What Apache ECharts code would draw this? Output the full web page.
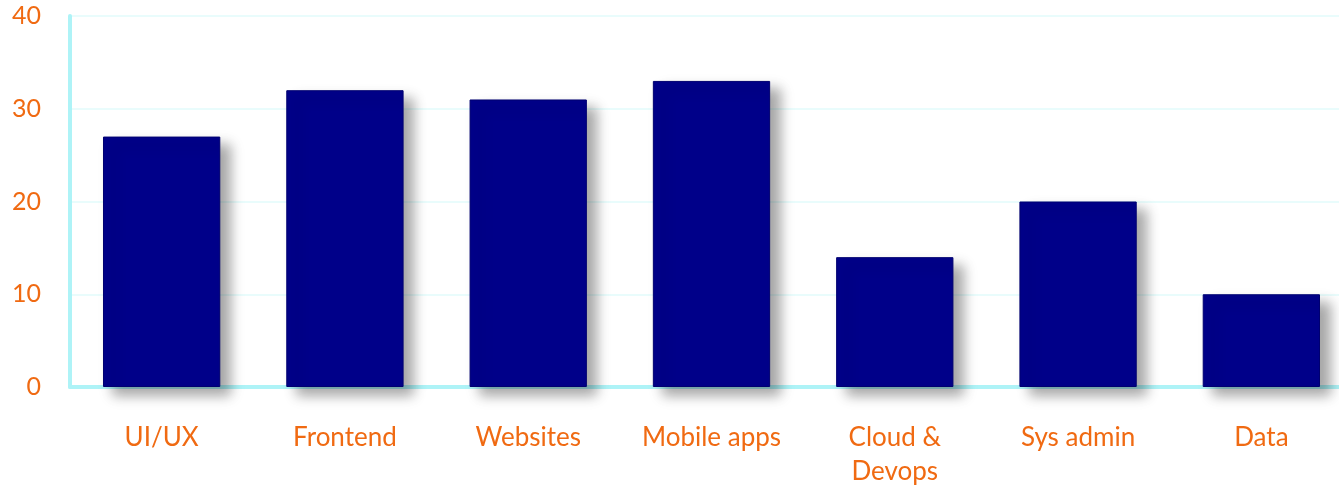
<!DOCTYPE html>
<html>
<head>
<meta charset="utf-8">
<script src="https://cdn.jsdelivr.net/npm/echarts@6/dist/echarts.min.js"></script>
<style>
  html, body { margin: 0; padding: 0; background: #ffffff; }
  #chart { width: 1339px; height: 489px; }
</style>
</head>
<body>
<div id="chart"></div>
<script>
// Project categories and how many projects fall into each
const categories = ['UI/UX', 'Frontend', 'Websites', 'Mobile apps', 'Cloud &\nDevops', 'Sys admin', 'Data'];
const projectCounts = [27, 32, 31, 33, 14, 20, 10];
const yTicks = { min: 0, max: 40, interval: 10 };

const labelColor = '#f06a12';
const axisCyan = '#aef3f7';
const gridCyan = '#e2fbfb';
const fontFamily = 'Lato, "Noto Sans", sans-serif';

const chart = echarts.init(document.getElementById('chart'), null, { renderer: 'canvas' });

chart.setOption({
  animation: false,
  backgroundColor: '#ffffff',
  grid: {
    left: 70,
    top: 16,
    width: 1283,
    height: 371,
    containLabel: false,
    outerBoundsMode: 'none'
  },
  xAxis: {
    type: 'category',
    data: categories,
    axisLine: { show: true, lineStyle: { color: axisCyan, width: 4 } },
    axisTick: { show: false },
    splitLine: { show: false },
    axisLabel: {
      interval: 0,
      color: labelColor,
      fontFamily: fontFamily,
      fontSize: 26,
      lineHeight: 34,
      margin: 34
    }
  },
  yAxis: {
    type: 'value',
    min: yTicks.min,
    max: yTicks.max,
    interval: yTicks.interval,
    axisLine: { show: true, lineStyle: { color: axisCyan, width: 4 } },
    axisTick: { show: false },
    splitLine: { show: true, lineStyle: { color: gridCyan, width: 1.5 } },
    axisLabel: {
      color: labelColor,
      fontFamily: fontFamily,
      fontSize: 25,
      margin: 29
    }
  },
  series: [{
    type: 'bar',
    data: projectCounts,
    barWidth: '64%',
    itemStyle: {
      color: '#000089',
      borderColor: '#000070',
      borderWidth: 1,
      shadowColor: 'rgba(0, 0, 0, 0.35)',
      shadowBlur: 12,
      shadowOffsetX: 10,
      shadowOffsetY: 8
    }
  }]
});
</script>
</body>
</html>
